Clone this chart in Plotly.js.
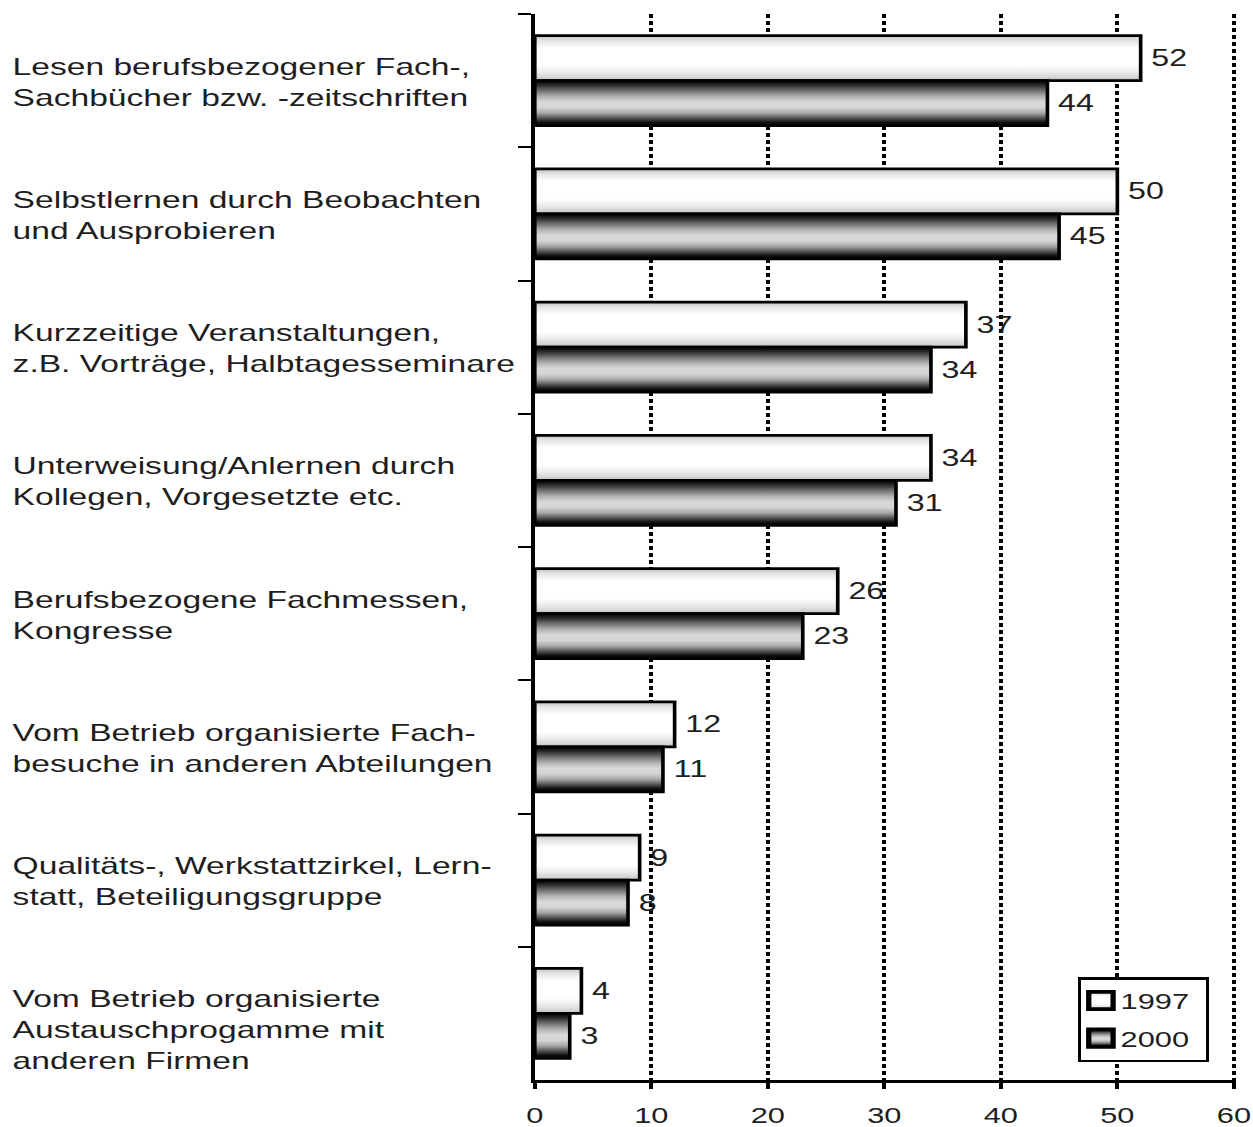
<!DOCTYPE html>
<html>
<head>
<meta charset="utf-8">
<script src="https://cdn.plot.ly/plotly-3.0.1.min.js"></script>
<style>
  html, body { margin: 0; padding: 0; background: #fff; overflow: hidden; }
  #wrap { width: 1253px; height: 1127px; overflow: hidden; }
  #chart { height: 1127px; transform-origin: 0 0; }
</style>
</head>
<body>
<div id="wrap"><div id="chart"></div></div>
<script>
// Weiterbildungsformen, Anteil in Prozent
const categories = [
  'Lesen berufsbezogener Fach-,<br>Sachbücher bzw. -zeitschriften',
  'Selbstlernen durch Beobachten<br>und Ausprobieren',
  'Kurzzeitige Veranstaltungen,<br>z.B. Vorträge, Halbtagesseminare',
  'Unterweisung/Anlernen durch<br>Kollegen, Vorgesetzte etc.',
  'Berufsbezogene Fachmessen,<br>Kongresse',
  'Vom Betrieb organisierte Fach-<br>besuche in anderen Abteilungen',
  'Qualitäts-, Werkstattzirkel, Lern-<br>statt, Beteiligungsgruppe',
  'Vom Betrieb organisierte<br>Austauschprogamme mit<br>anderen Firmen'
];
const values1997 = [52, 50, 37, 34, 26, 12, 9, 4];
const values2000 = [44, 45, 34, 31, 23, 11, 8, 3];
const seriesNames = ['1997', '2000'];
const xTickValues = [0, 10, 20, 30, 40, 50, 60];

// horizontal stretch of the whole figure
const STRETCH = 1.4;
const FULL_W = 1253, FULL_H = 1127;
const W = FULL_W / STRETCH;

const chart = document.getElementById('chart');
chart.style.width = W + 'px';
chart.style.transform = 'scaleX(' + STRETCH + ')';

const FONT = 'Liberation Sans, Arial, Helvetica, sans-serif';
const INK = '#1e1e1e';

const barStyle = (fill) => ({
  color: fill,
  line: { color: '#000', width: 2.6 }
});

const traces = [
  {
    type: 'bar', orientation: 'h', name: seriesNames[0], legendgroup: 'a',
    y: categories, x: values1997,
    marker: barStyle('#f2f2f2'),
    text: values1997.map(String), texttemplate: '\u2009%{text}',
    textposition: 'outside', cliponaxis: false,
    textfont: { family: FONT, size: 23, color: INK },
    hoverinfo: 'x+name'
  },
  {
    type: 'bar', orientation: 'h', name: seriesNames[1], legendgroup: 'b',
    y: categories, x: values2000,
    marker: barStyle('#9a9a9a'),
    text: values2000.map(String), texttemplate: '\u2009%{text}',
    textposition: 'outside', cliponaxis: false,
    textfont: { family: FONT, size: 23, color: INK },
    hoverinfo: 'x+name'
  }
];

// the x range runs a little past 60 so the last grid line is kept
const X_MAX = 60.2;
const marginL = 382, marginR = 12.2, marginT = 14, marginB = 47;
const plotW = W - marginL - marginR;
const labelX = -(marginL - 7) / plotW;

const annotations = categories.map(c => ({
  xref: 'paper', yref: 'y', x: labelX, y: c,
  xanchor: 'left', yanchor: 'top', yshift: 30,
  text: c, align: 'left', showarrow: false,
  font: { family: FONT, size: 24, color: INK }
}));

const layout = {
  width: W, height: FULL_H,
  margin: { l: marginL, r: marginR, t: marginT, b: marginB, pad: 0 },
  paper_bgcolor: '#fff', plot_bgcolor: '#fff',
  barmode: 'group', bargap: 0.325, bargroupgap: 0,
  font: { family: FONT, color: INK },
  showlegend: true,
  legend: {
    x: 0.774, y: 0.0965, xanchor: 'left', yanchor: 'top',
    bgcolor: '#fff', bordercolor: '#000', borderwidth: 2.6,
    font: { family: FONT, size: 22, color: INK },
    traceorder: 'grouped', itemwidth: 30, tracegroupgap: 6
  },
  xaxis: {
    range: [0, X_MAX], tickvals: xTickValues, ticktext: xTickValues.map(String),
    showline: true, linecolor: '#000', linewidth: 2.6,
    ticks: 'outside', ticklen: 6, tickwidth: 2.6, tickcolor: '#000',
    showgrid: true, gridcolor: '#000', gridwidth: 2.7, griddash: '4px,3px',
    zeroline: false,
    tickfont: { family: FONT, size: 22, color: INK },
    ticklabelstandoff: 8,
    fixedrange: true
  },
  yaxis: {
    type: 'category', autorange: 'reversed',
    showline: true, linecolor: '#000', linewidth: 2.6,
    ticks: 'outside', tickson: 'boundaries', ticklen: 9, tickwidth: 2.4, tickcolor: '#000',
    showticklabels: false, showgrid: false, zeroline: false,
    fixedrange: true
  },
  annotations: annotations
};

// cylinder-like shading for the bars
const gradients = {
  g1997: [
    [0, '#c4c4c4'], [0.12, '#e6e6e6'], [0.28, '#ffffff'], [0.66, '#ffffff'],
    [0.8, '#ededed'], [0.92, '#d6d6d6'], [1, '#c0c0c0']
  ],
  g2000: [
    [0, '#000000'], [0.1, '#2a2a2a'], [0.22, '#6e6e6e'], [0.36, '#b4b4b4'],
    [0.48, '#d9d9d9'], [0.6, '#d4d4d4'], [0.72, '#a8a8a8'], [0.84, '#505050'],
    [0.93, '#101010'], [1, '#000000']
  ]
};

function ensureGradients(gd) {
  const svg = gd.querySelector('svg.main-svg');
  if (!svg) return;
  let defs = svg.querySelector('defs');
  if (!defs) {
    defs = document.createElementNS('http://www.w3.org/2000/svg', 'defs');
    svg.insertBefore(defs, svg.firstChild);
  }
  Object.keys(gradients).forEach(id => {
    if (svg.querySelector('#' + id)) return;
    const lg = document.createElementNS('http://www.w3.org/2000/svg', 'linearGradient');
    lg.setAttribute('id', id);
    lg.setAttribute('x1', '0'); lg.setAttribute('y1', '0');
    lg.setAttribute('x2', '0'); lg.setAttribute('y2', '1');
    gradients[id].forEach(([off, col]) => {
      const s = document.createElementNS('http://www.w3.org/2000/svg', 'stop');
      s.setAttribute('offset', off);
      s.setAttribute('stop-color', col);
      lg.appendChild(s);
    });
    defs.appendChild(lg);
  });
}

const LEGEND_TEXT_SHIFT = 12;
const LEGEND_SYMBOL_SHIFT = 6;
const LEGEND_BOX_TRIM = 6;

function shade(gd) {
  ensureGradients(gd);
  const ids = ['g1997', 'g2000'];
  gd.querySelectorAll('.barlayer .trace').forEach((t, i) => {
    t.querySelectorAll('.point path').forEach(p => {
      p.style.fill = 'url(#' + ids[i] + ')';
    });
  });
  gd.querySelectorAll('.legend .traces').forEach((t, i) => {
    t.querySelectorAll('.legendpoints path').forEach(p => {
      p.style.fill = 'url(#' + ids[i] + ')';
      if (p.dataset.base === undefined) p.dataset.base = p.getAttribute('transform') || '';
      p.setAttribute('transform',
        'translate(' + (-LEGEND_SYMBOL_SHIFT) + ',0) ' + p.dataset.base + ' scale(1.45)');
    });
    const txt = t.querySelector('text.legendtext');
    if (txt) {
      if (txt.dataset.bx === undefined) txt.dataset.bx = txt.getAttribute('x') || '0';
      txt.setAttribute('x', (+txt.dataset.bx - LEGEND_TEXT_SHIFT));
    }
  });
  const bg = gd.querySelector('.legend rect.bg');
  if (bg) {
    if (bg.dataset.bw === undefined) bg.dataset.bw = bg.getAttribute('width');
    bg.setAttribute('width', (+bg.dataset.bw - LEGEND_BOX_TRIM));
  }
}

Plotly.newPlot(chart, traces, layout, { displayModeBar: false })
  .then(gd => {
    shade(gd);
    gd.on('plotly_afterplot', () => shade(gd));
  });
</script>
</body>
</html>
